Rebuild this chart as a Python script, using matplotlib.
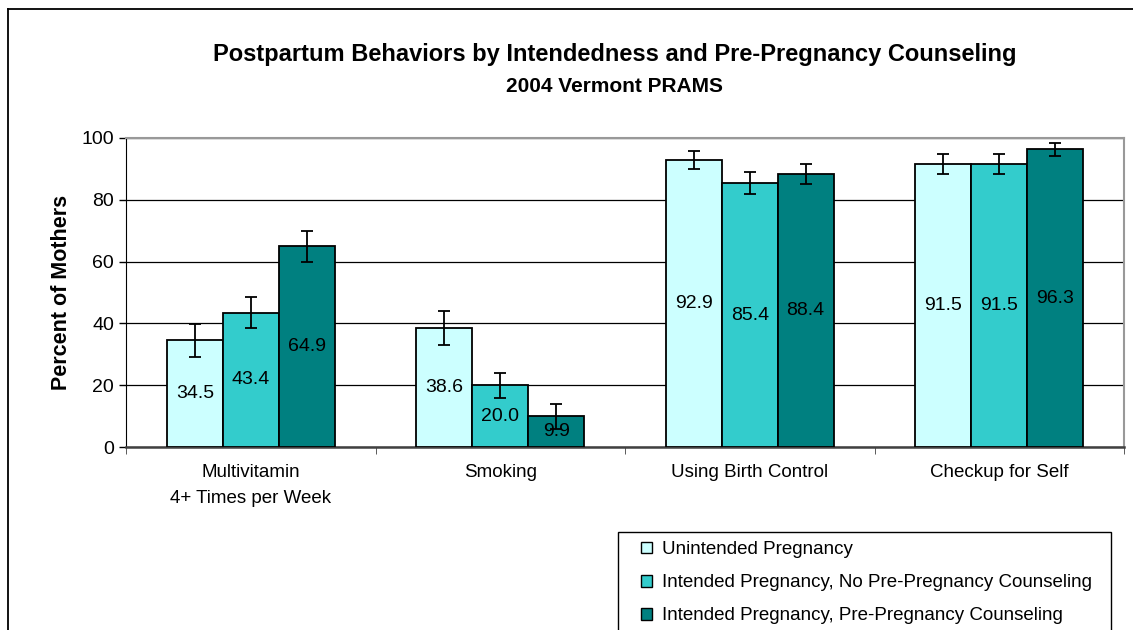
import numpy as np
import matplotlib.pyplot as plt
from matplotlib.patches import Patch, Rectangle
from matplotlib.lines import Line2D

plt.rcParams['font.family'] = ['Liberation Sans', 'DejaVu Sans']

categories = ["Multivitamin\n4+ Times per Week", "Smoking", "Using Birth Control", "Checkup for Self"]
series_names = ["Unintended Pregnancy",
                "Intended Pregnancy, No Pre-Pregnancy Counseling",
                "Intended Pregnancy, Pre-Pregnancy Counseling"]
unintended = [34.5, 38.6, 92.9, 91.5]
intended_no_counsel = [43.4, 20.0, 85.4, 91.5]
intended_counsel = [64.9, 9.9, 88.4, 96.3]
# half-widths of the confidence intervals
err_unintended = [5.3, 5.5, 2.9, 3.3]
err_no_counsel = [5.0, 4.1, 3.5, 3.3]
err_counsel = [4.9, 4.1, 3.3, 2.1]

colors = ['#CCFFFF', '#33CCCC', '#008080']

fig = plt.figure(figsize=(11.33, 6.3), dpi=100)
ax = fig.add_axes([126/1133, 1-447/630, (1124-126)/1133, (447-138)/630])

x = np.arange(len(categories))
w = 0.224
all_vals = [unintended, intended_no_counsel, intended_counsel]
all_errs = [err_unintended, err_no_counsel, err_counsel]
for i, (vals, errs) in enumerate(zip(all_vals, all_errs)):
    pos = x + (i - 1) * w
    ax.bar(pos, vals, w, color=colors[i], edgecolor='black', linewidth=1.3, zorder=3)
    ax.errorbar(pos, vals, yerr=errs, fmt='none', ecolor='black', elinewidth=1.3,
                capsize=4.5, capthick=1.3, zorder=4)
    for p, v in zip(pos, vals):
        ax.text(p, v / 2, f"{v:.1f}", ha='center', va='center', fontsize=14, zorder=5)

ax.set_xlim(-0.5, len(categories) - 0.5)
ax.set_ylim(0, 100)
ax.set_yticks(range(0, 101, 20))
ax.set_xticks(x)
ax.set_xticklabels(categories, fontsize=13.5, linespacing=1.7)
ax.tick_params(axis='x', length=0, pad=12)
ax.set_xticks(np.arange(-0.5, len(categories), 1), minor=True)
ax.tick_params(axis='x', which='minor', length=5, direction='out', color='#404040')
ax.tick_params(axis='y', labelsize=14, length=5, direction='out', width=1)
ax.yaxis.grid(True, color='black', linewidth=0.9, zorder=0)
ax.set_axisbelow(True)
for s in ['top', 'right']:
    ax.spines[s].set_color('#999999')
    ax.spines[s].set_linewidth(1.5)
ax.spines['left'].set_color('black')
ax.spines['bottom'].set_color('#404040')
ax.spines['bottom'].set_linewidth(1.8)
ax.set_ylabel("Percent of Mothers", fontsize=15.5, fontweight='bold', labelpad=7)

fig.text(615/1133, 1-55/630, "Postpartum Behaviors by Intendedness and Pre-Pregnancy Counseling",
         ha='center', va='center', fontsize=17, fontweight='bold')
fig.text(615/1133, 1-87/630, "2004 Vermont PRAMS",
         ha='center', va='center', fontsize=15, fontweight='bold')

# outer chart border (only left and top edges fall inside the picture)
fig.add_artist(Line2D([8/1133, 8/1133], [0, 1-9/630], transform=fig.transFigure,
                      color='black', linewidth=1.3))
fig.add_artist(Line2D([8/1133, 1], [1-9/630, 1-9/630], transform=fig.transFigure,
                      color='black', linewidth=1.3))

# legend frame running off the bottom edge
fig.add_artist(Rectangle((618/1133, -0.05), (1111-618)/1133, 1-532/630+0.05,
                         transform=fig.transFigure, facecolor='white',
                         edgecolor='black', linewidth=1.0))
handles = [Patch(facecolor=c, edgecolor='black', linewidth=1.0) for c in colors]
fig.legend(handles, series_names, loc='upper left', bbox_to_anchor=(628/1133, 1-528/630),
           frameon=False, fontsize=13.5, handlelength=0.6, handleheight=0.6,
           handletextpad=0.5, labelspacing=0.86, borderpad=0.2)

fig.savefig('out.png', dpi=100)
